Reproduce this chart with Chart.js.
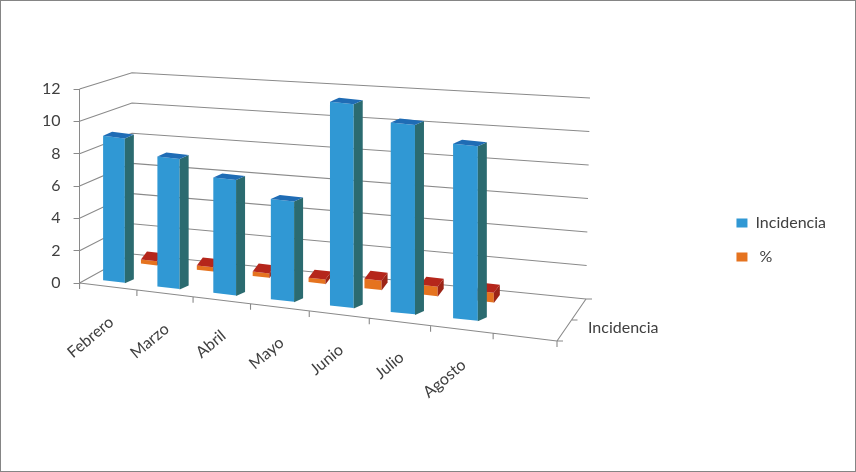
<!DOCTYPE html>
<html>
<head>
<meta charset="utf-8">
<script src="https://cdn.jsdelivr.net/npm/chart.js@4.4.0/dist/chart.umd.min.js"></script>
<style>
  html, body { margin: 0; padding: 0; background: #fff; }
</style>
</head>
<body>
<canvas id="chart" width="856" height="472"></canvas>
<script>
// values
const months = ['Febrero', 'Marzo', 'Abril', 'Mayo', 'Junio', 'Julio', 'Agosto', ''];
const incidencia = [9, 8, 7, 6, 12, 11, 10, null];
const porcentaje = [0.3, 0.3, 0.3, 0.3, 0.6, 0.6, 0.6, null];
const yTicks = [0, 2, 4, 6, 8, 10, 12];
const seriesNames = ['Incidencia', ' %'];
const depthLabel = 'Incidencia';

const FONT = 'Lato';
const GRID = '#8a8a8a';
const TEXT = '#404040';

// fake 3d: each series row is a slanted line with a little perspective
const rows = [
  { x: [87.3, 423.5, 51.6], y: [278.8, 50.7], h: [15.98, 1.87], w: [21.5, 4], depth: [9, -4],
    side: '#2b6b70', top: '#1f6cb5' },
  { x: [121, 448, 0], y: [261.9, 49.3], h: [15.5, 1.7], w: [16, 2], depth: [6, -8],
    side: '#9c2416', top: '#b5261b' }
];
const backWall = { lx: 132, lbase: 254, lunit: 15.1, rx: 586, rbase: 299, runit: 16.75 };
const floorRight = [557, 341];

function rowPoint(row, u) {
  return {
    x: row.x[0] + row.x[1] * u + row.x[2] * u * u,
    y: row.y[0] + row.y[1] * u,
    h: row.h[0] + row.h[1] * u,
    w: row.w[0] + row.w[1] * u,
    slope: row.y[1] / (row.x[1] + 2 * row.x[2] * u)
  };
}

function quad(ctx, pts, color) {
  ctx.beginPath();
  ctx.moveTo(pts[0][0], pts[0][1]);
  for (let i = 1; i < pts.length; i++) ctx.lineTo(pts[i][0], pts[i][1]);
  ctx.closePath();
  ctx.fillStyle = color;
  ctx.fill();
}

function wrapBar(chart, el, row) {
  if (el._wrapped) return;
  el._wrapped = true;
  const plain = el.draw;
  el.draw = function (ctx) {
    const xs = chart.scales.x, ys = chart.scales.y;
    const { x, y, width } = this.getProps(['x', 'y', 'width'], true);
    const u = (x - xs.left) / xs.width;
    const p = rowPoint(row, u);
    const zero = ys.getPixelForValue(0);
    const unit = zero - ys.getPixelForValue(1);
    const sx = p.w / width, sy = p.h / unit;

    // front face is drawn by chart.js itself, just projected
    ctx.save();
    ctx.transform(sx, p.slope * sx, 0, sy, p.x - sx * x, p.y - p.slope * sx * x - sy * zero);
    plain.call(this, ctx);
    ctx.restore();

    const hw = p.w / 2, hgt = (zero - y) * sy;
    const bl = [p.x - hw, p.y - p.slope * hw], br = [p.x + hw, p.y + p.slope * hw];
    const tl = [bl[0], bl[1] - hgt], tr = [br[0], br[1] - hgt];
    const [dx, dy] = row.depth;
    quad(ctx, [br, tr, [tr[0] + dx, tr[1] + dy], [br[0] + dx, br[1] + dy]], row.side);
    quad(ctx, [tl, tr, [tr[0] + dx, tr[1] + dy], [tl[0] + dx, tl[1] + dy]], row.top);
  };
}

function frontAxisX(u) { return 82 + 434 * u + 41 * u * u; }

const box3d = {
  id: 'box3d',
  beforeDraw(chart) {
    const ctx = chart.ctx;
    ctx.save();
    ctx.fillStyle = '#fff';
    ctx.fillRect(0, 0, chart.width, chart.height);
    ctx.strokeStyle = '#858585';
    ctx.lineWidth = 1;
    ctx.strokeRect(0.5, 0.5, chart.width - 1, chart.height - 1);
    ctx.restore();
  },
  beforeDatasetsDraw(chart) {
    const ctx = chart.ctx, ys = chart.scales.y, area = chart.chartArea;
    const left = area.left, zero = ys.getPixelForValue(0);
    const frontY = x => zero + (floorRight[1] - zero) * (x - left) / (floorRight[0] - left);

    ctx.save();
    ctx.strokeStyle = GRID;
    ctx.lineWidth = 1.1;
    // side and back walls
    yTicks.forEach(v => {
      const ly = backWall.lbase - backWall.lunit * v;
      ctx.beginPath();
      ctx.moveTo(left, ys.getPixelForValue(v));
      ctx.lineTo(backWall.lx, ly);
      ctx.lineTo(backWall.rx + v / 3, backWall.rbase - backWall.runit * v);
      ctx.stroke();
    });
    // floor front edge with category ticks
    ctx.beginPath();
    ctx.moveTo(left, zero);
    ctx.lineTo(floorRight[0], floorRight[1]);
    for (let k = 0; k <= months.length; k++) {
      const tx = k === 0 ? left : frontAxisX(k / months.length);
      ctx.moveTo(tx, frontY(tx));
      ctx.lineTo(tx, frontY(tx) + 6);
    }
    // floor right edge (series axis)
    ctx.moveTo(backWall.rx, backWall.rbase);
    ctx.lineTo(floorRight[0], floorRight[1]);
    [0, 0.5, 1].forEach(t => {
      const px = backWall.rx + (floorRight[0] - backWall.rx) * t;
      const py = backWall.rbase + (floorRight[1] - backWall.rbase) * t;
      ctx.moveTo(px, py);
      ctx.lineTo(px + 6, py);
    });
    ctx.stroke();
    ctx.restore();

    chart.data.datasets.forEach((ds, i) => {
      chart.getDatasetMeta(i).data.forEach(el => wrapBar(chart, el, rows[i]));
    });
  },
  afterDraw(chart) {
    const ctx = chart.ctx, xs = chart.scales.x, ys = chart.scales.y, area = chart.chartArea;
    const left = area.left, zero = ys.getPixelForValue(0);
    const frontY = x => zero + (floorRight[1] - zero) * (x - left) / (floorRight[0] - left);
    ctx.save();
    ctx.fillStyle = TEXT;
    ctx.font = '16px ' + FONT;
    months.forEach((m, i) => {
      if (!m) return;
      const u = (xs.getPixelForValue(i) - xs.left) / xs.width;
      const x = frontAxisX(u) + 2;
      ctx.save();
      ctx.translate(x, frontY(x) + 33);
      ctx.rotate(-40 * Math.PI / 180);
      ctx.textAlign = 'right';
      ctx.textBaseline = 'middle';
      ctx.fillText(m, 0, 0);
      ctx.restore();
    });
    ctx.textAlign = 'left';
    ctx.textBaseline = 'middle';
    ctx.fillText(depthLabel, 588, 328);
    ctx.restore();
  }
};

new Chart(document.getElementById('chart'), {
  type: 'bar',
  data: {
    labels: months,
    datasets: [
      { label: seriesNames[0], data: incidencia, backgroundColor: '#3098d4', borderWidth: 0, grouped: false, clip: false },
      { label: seriesNames[1], data: porcentaje, backgroundColor: '#e5731f', borderWidth: 0, grouped: false, clip: false }
    ]
  },
  options: {
    responsive: false,
    animation: false,
    devicePixelRatio: 1,
    layout: { padding: { left: 29, top: 89, right: 20, bottom: 189 } },
    scales: {
      x: { display: false, offset: true },
      y: {
        min: 0,
        max: 12,
        afterBuildTicks: axis => { axis.ticks = yTicks.map(v => ({ value: v })); },
        border: { display: true, color: GRID, width: 1 },
        grid: { drawOnChartArea: false, drawTicks: true, tickLength: 6, color: GRID },
        ticks: { padding: 13, color: TEXT, font: { family: FONT, size: 16 } }
      }
    },
    plugins: {
      tooltip: { enabled: false },
      legend: {
        position: 'right',
        align: 'end',
        labels: { boxWidth: 11, boxHeight: 9, padding: 18, color: TEXT, font: { family: FONT, size: 16 } }
      }
    }
  },
  plugins: [box3d]
});
</script>
</body>
</html>
